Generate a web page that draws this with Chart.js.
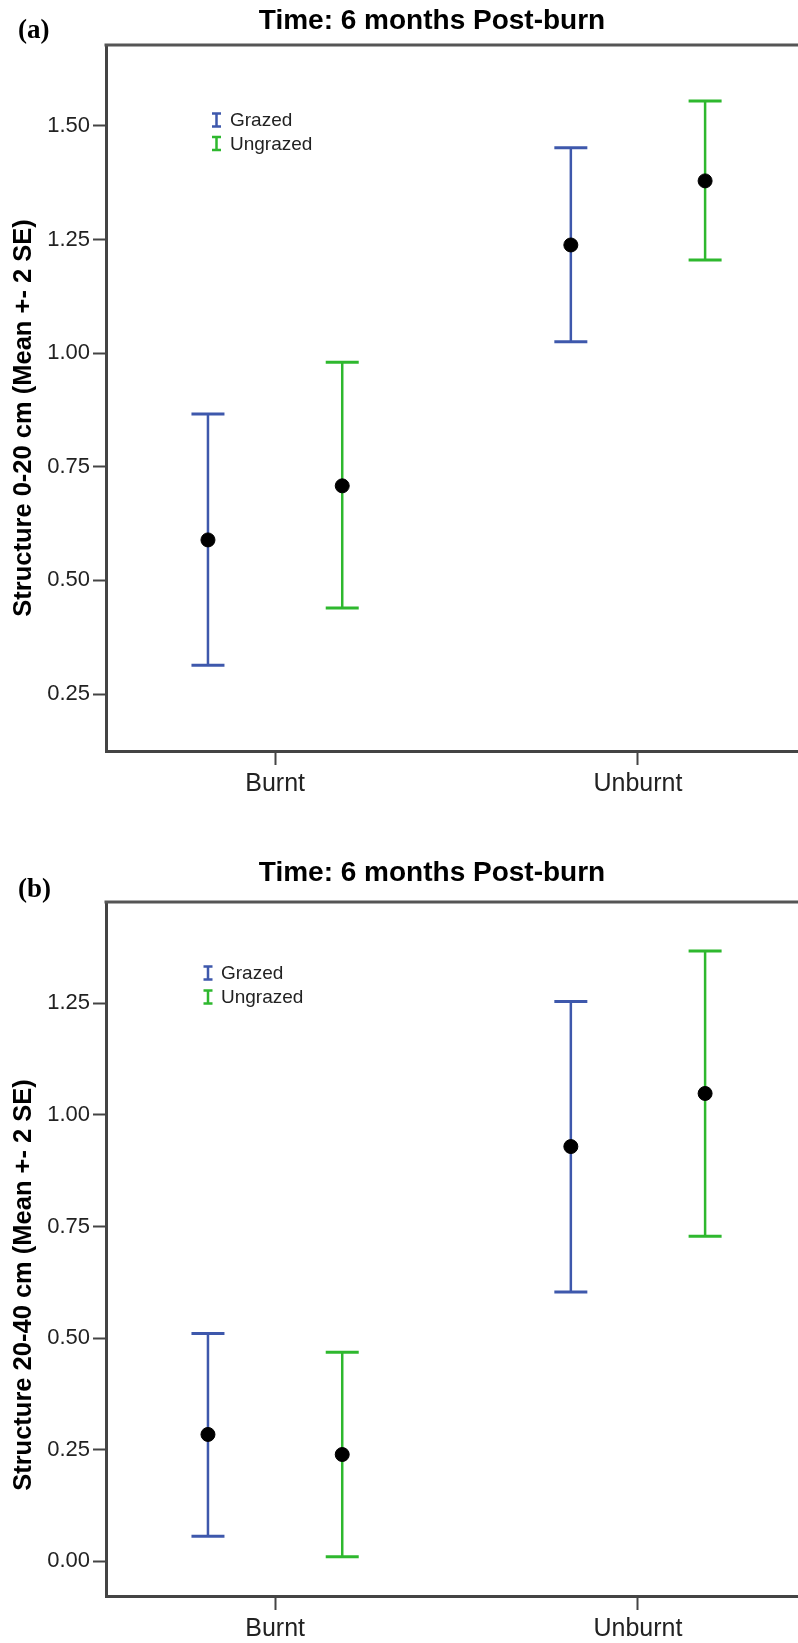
<!DOCTYPE html>
<html>
<head>
<meta charset="utf-8">
<script src="https://cdn.jsdelivr.net/npm/chart.js@4.4.1/dist/chart.umd.min.js"></script>
<style>
    html, body { margin: 0; padding: 0; background: #fff; }
    body { position: relative; width: 798px; height: 1643px; overflow: hidden; }
    canvas { position: absolute; left: 0; }
    .panel { position: absolute; left: 18px; font: bold 27px "Liberation Serif", "Times New Roman", serif; line-height: 30px; }
    .title { position: absolute; left: 432px; transform: translateX(-50%); white-space: nowrap;
             font: bold 28px "Liberation Sans", Arial, sans-serif; line-height: 32px; color: #000; }
</style>
</head>
<body>
<canvas id="chartA" width="798" height="811" style="top:0"></canvas>
<canvas id="chartB" width="798" height="823" style="top:820px"></canvas>
<div class="panel" style="top:14px">(a)</div>
<div class="title" style="top:4px">Time: 6 months Post-burn</div>
<div class="panel" style="top:873px">(b)</div>
<div class="title" style="top:856px">Time: 6 months Post-burn</div>
<script>
const categories = ["Burnt", "Unburnt"];

// Structure 0-20 cm, mean and +- 2 SE limits
const grazedMean020 = [0.589, 1.238];
const grazedLow020 = [0.313, 1.025];
const grazedHigh020 = [0.866, 1.452];
const ungrazedMean020 = [0.708, 1.379];
const ungrazedLow020 = [0.439, 1.205];
const ungrazedHigh020 = [0.980, 1.555];
const yTicks020 = [0.25, 0.5, 0.75, 1.0, 1.25, 1.5];

// Structure 20-40 cm
const grazedMean2040 = [0.284, 0.929];
const grazedLow2040 = [0.056, 0.603];
const grazedHigh2040 = [0.510, 1.254];
const ungrazedMean2040 = [0.239, 1.048];
const ungrazedLow2040 = [0.010, 0.728];
const ungrazedHigh2040 = [0.468, 1.367];
const yTicks2040 = [0, 0.25, 0.5, 0.75, 1.0, 1.25];

const GRAZED = "#3e58ac";
const UNGRAZED = "#2eb82e";
const FONT = '"Liberation Sans", Arial, sans-serif';
const dodge = 0.185; // horizontal shift of each group inside a category

// vertical whisker per category, null point breaks the line between them
function whiskers(xs, lows, highs) {
    const pts = [];
    lows.forEach((lo, i) => {
        if (i > 0) pts.push({ x: xs[i] - 0.5, y: null });
        pts.push({ x: xs[i], y: lo }, { x: xs[i], y: highs[i] });
    });
    return pts;
}

function barSet(label, color, shift, lows, highs) {
    const xs = categories.map((c, i) => i + 1 + shift);
    return {
        label: label,
        legendIcon: true,
        order: 1,
        data: whiskers(xs, lows, highs),
        borderColor: color,
        borderWidth: 2.5,
        pointStyle: "line",
        pointRadius: 16.5,
        pointHoverRadius: 16.5,
        pointBorderColor: color,
        pointBorderWidth: 3,
        spanGaps: false,
        tension: 0,
        fill: false,
    };
}

function meanSet(label, shift, means) {
    return {
        label: label,
        order: 0,
        showLine: false,
        data: means.map((m, i) => ({ x: i + 1 + shift, y: m })),
        pointStyle: "circle",
        pointRadius: 7,
        pointHoverRadius: 7,
        pointBackgroundColor: "#000",
        pointBorderColor: "#000",
        pointBorderWidth: 1,
    };
}

// top edge of the plot frame
const frameTop = {
    id: "frameTop",
    afterDraw(chart) {
        const { ctx, chartArea: a } = chart;
        ctx.save();
        ctx.strokeStyle = "#555";
        ctx.lineWidth = 3;
        ctx.beginPath();
        ctx.moveTo(a.left - 1.5, a.top);
        ctx.lineTo(a.right, a.top);
        ctx.stroke();
        ctx.restore();
    },
};

// rotated y axis title, sits a little below the plot centre
const axisTitle = {
    id: "axisTitle",
    afterDraw(chart, args, opts) {
        const { ctx, chartArea: a } = chart;
        ctx.save();
        ctx.translate(opts.x, (a.top + a.bottom) / 2 + opts.shift);
        ctx.rotate(-Math.PI / 2);
        ctx.font = "bold 25.5px " + FONT;
        ctx.textAlign = "center";
        ctx.textBaseline = "middle";
        ctx.fillStyle = "#000";
        ctx.fillText(opts.text, 0, 0);
        ctx.restore();
    },
};

// small error-bar legend inside the plot
const barLegend = {
    id: "barLegend",
    afterDraw(chart, args, opts) {
        const { ctx, chartArea: a } = chart;
        const items = chart.data.datasets.filter((d) => d.legendIcon);
        ctx.save();
        ctx.font = "19px " + FONT;
        ctx.textBaseline = "middle";
        items.forEach((d, i) => {
            const x = a.left + opts.x;
            const y = a.top + opts.y + i * opts.rowGap;
            ctx.strokeStyle = d.borderColor;
            ctx.lineWidth = 2.5;
            ctx.beginPath();
            ctx.moveTo(x, y - 6.5);
            ctx.lineTo(x, y + 6.5);
            ctx.moveTo(x - 4.5, y - 6.5);
            ctx.lineTo(x + 4.5, y - 6.5);
            ctx.moveTo(x - 4.5, y + 6.5);
            ctx.lineTo(x + 4.5, y + 6.5);
            ctx.stroke();
            ctx.fillStyle = "#222";
            ctx.fillText(d.label, x + opts.textGap, y + 1);
        });
        ctx.restore();
    },
};

function drawPanel(id, p) {
    return new Chart(document.getElementById(id), {
        type: "line",
        data: {
            datasets: [
                meanSet("Grazed", -dodge, p.grazedMean),
                meanSet("Ungrazed", dodge, p.ungrazedMean),
                barSet("Grazed", GRAZED, -dodge, p.grazedLow, p.grazedHigh),
                barSet("Ungrazed", UNGRAZED, dodge, p.ungrazedLow, p.ungrazedHigh),
            ],
        },
        plugins: [frameTop, axisTitle, barLegend],
        options: {
            responsive: false,
            animation: false,
            devicePixelRatio: 1,
            events: [],
            layout: { autoPadding: false, padding: { top: p.padTop, left: 0, right: 0, bottom: 0 } },
            plugins: {
                legend: { display: false },
                tooltip: { enabled: false },
                barLegend: p.legend,
                axisTitle: { text: p.yTitle, x: 24, shift: p.titleShift },
            },
            scales: {
                x: {
                    type: "linear",
                    min: 0.534,
                    max: 2.441,
                    afterFit: (s) => {
                        s.height = p.xAxisHeight;
                        s.paddingLeft = 0;
                        s.paddingRight = 0;
                    },
                    afterBuildTicks: (s) => { s.ticks = categories.map((c, i) => ({ value: i + 1 })); },
                    ticks: {
                        callback: (v) => categories[v - 1],
                        font: { family: FONT, size: 25 },
                        color: "#222",
                        padding: 4,
                        maxRotation: 0,
                    },
                    grid: { drawOnChartArea: false, tickLength: 14, tickWidth: 2, tickColor: "#444" },
                    border: { color: "#444", width: 3 },
                },
                y: {
                    min: p.yMin,
                    max: p.yMax,
                    afterFit: (s) => { s.width = 106; },
                    afterBuildTicks: (s) => { s.ticks = p.yTicks.map((v) => ({ value: v })); },
                    ticks: {
                        callback: (v) => v.toFixed(2),
                        font: { family: FONT, size: 22 },
                        color: "#222",
                        padding: 3,
                    },
                    grid: { drawOnChartArea: false, tickLength: 13, tickWidth: 2, tickColor: "#444" },
                    border: { color: "#444", width: 3 },
                },
            },
        },
    });
}

drawPanel("chartA", {
    grazedMean: grazedMean020, grazedLow: grazedLow020, grazedHigh: grazedHigh020,
    ungrazedMean: ungrazedMean020, ungrazedLow: ungrazedLow020, ungrazedHigh: ungrazedHigh020,
    yTicks: yTicks020, yMin: 0.1246, yMax: 1.678,
    yTitle: "Structure 0-20 cm (Mean +- 2 SE)", titleShift: 20,
    padTop: 45, xAxisHeight: 60,
    legend: { x: 110.5, y: 75, rowGap: 23.5, textGap: 13.5 },
});

drawPanel("chartB", {
    grazedMean: grazedMean2040, grazedLow: grazedLow2040, grazedHigh: grazedHigh2040,
    ungrazedMean: ungrazedMean2040, ungrazedLow: ungrazedLow2040, ungrazedHigh: ungrazedHigh2040,
    yTicks: yTicks2040, yMin: -0.078, yMax: 1.477,
    yTitle: "Structure 20-40 cm (Mean +- 2 SE)", titleShift: 36,
    padTop: 82, xAxisHeight: 47,
    legend: { x: 102, y: 71, rowGap: 24, textGap: 13 },
});
</script>
</body>
</html>
